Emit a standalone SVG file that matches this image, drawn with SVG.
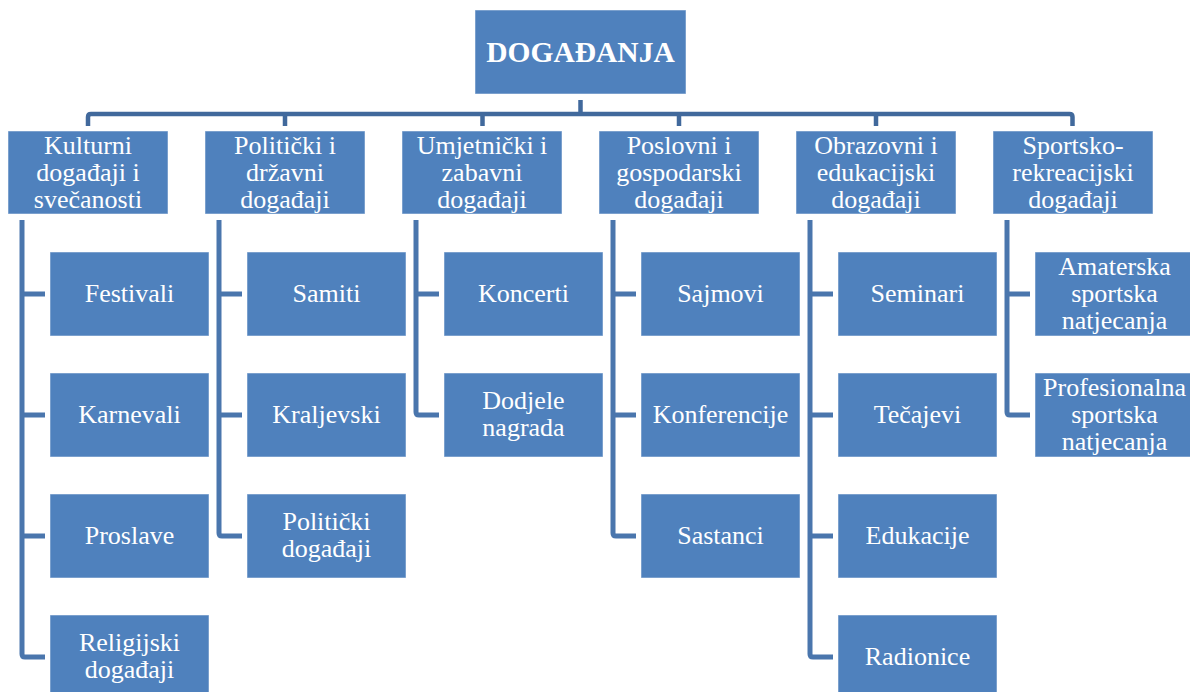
<svg xmlns="http://www.w3.org/2000/svg" width="1190" height="692" viewBox="0 0 1190 692">
<style>
.box{fill:#4f81bd;stroke:#ffffff;stroke-opacity:0.5;stroke-width:1}
.t{font-family:"Liberation Serif","Times New Roman",serif;font-size:26px;fill:#ffffff;text-anchor:middle}
.root{font-family:"Liberation Serif","Times New Roman",serif;font-size:29.5px;font-weight:bold;fill:#ffffff;text-anchor:middle}
.bus{fill:none;stroke:#41699c;stroke-width:4.5;stroke-linejoin:round}
.ln{fill:none;stroke:#4a76ad;stroke-width:5;stroke-linejoin:round}
</style>
<rect width="1190" height="692" fill="#ffffff"/>
<g id="connectors">
<path class="bus" d="M580.5,100 V114"/>
<path class="bus" d="M88,126 V117 Q88,114 91,114 H1069.5 Q1072.5,114 1072.5,117 V126"/>
<path class="bus" d="M285,114 V126 M482.5,114 V126 M679,114 V126 M876,114 V126"/>
<path class="ln" d="M22,220 V654 Q22,657 25,657 H45 M22,294 H45 M22,415 H45 M22,536 H45"/>
<path class="ln" d="M219,220 V533 Q219,536 222,536 H242 M219,294 H242 M219,415 H242"/>
<path class="ln" d="M416,220 V412 Q416,415 419,415 H439 M416,294 H439"/>
<path class="ln" d="M613,220 V533 Q613,536 616,536 H636 M613,294 H636 M613,415 H636"/>
<path class="ln" d="M810,220 V654 Q810,657 813,657 H833 M810,294 H833 M810,415 H833 M810,536 H833"/>
<path class="ln" d="M1007,220 V412 Q1007,415 1010,415 H1030 M1007,294 H1030"/>
</g>
<g id="root"><rect class="box" x="475" y="10" width="211" height="84"/><text class="root" x="580.5" y="62">DOGAĐANJA</text></g>

<g id="kulturni"><rect class="box" x="8" y="131" width="160" height="83"/><text class="t" x="88" y="154"><tspan x="88">Kulturni</tspan><tspan x="88" dy="27">događaji i</tspan><tspan x="88" dy="27">svečanosti</tspan></text></g>
<g id="politicki"><rect class="box" x="205" y="131" width="160" height="83"/><text class="t" x="285" y="154"><tspan x="285">Politički i</tspan><tspan x="285" dy="27">državni</tspan><tspan x="285" dy="27">događaji</tspan></text></g>
<g id="umjetnicki"><rect class="box" x="402" y="131" width="160" height="83"/><text class="t" x="482" y="154"><tspan x="482">Umjetnički i</tspan><tspan x="482" dy="27">zabavni</tspan><tspan x="482" dy="27">događaji</tspan></text></g>
<g id="poslovni"><rect class="box" x="599" y="131" width="160" height="83"/><text class="t" x="679" y="154"><tspan x="679">Poslovni i</tspan><tspan x="679" dy="27">gospodarski</tspan><tspan x="679" dy="27">događaji</tspan></text></g>
<g id="obrazovni"><rect class="box" x="796" y="131" width="160" height="83"/><text class="t" x="876" y="154"><tspan x="876">Obrazovni i</tspan><tspan x="876" dy="27">edukacijski</tspan><tspan x="876" dy="27">događaji</tspan></text></g>
<g id="sportsko"><rect class="box" x="993" y="131" width="160" height="83"/><text class="t" x="1073" y="154"><tspan x="1073">Sportsko-</tspan><tspan x="1073" dy="27">rekreacijski</tspan><tspan x="1073" dy="27">događaji</tspan></text></g>

<g id="festivali"><rect class="box" x="50" y="252" width="159" height="84"/><text class="t" x="129.5" y="302">Festivali</text></g>
<g id="karnevali"><rect class="box" x="50" y="373" width="159" height="84"/><text class="t" x="129.5" y="423">Karnevali</text></g>
<g id="proslave"><rect class="box" x="50" y="494" width="159" height="84"/><text class="t" x="129.5" y="544">Proslave</text></g>
<g id="religijski"><rect class="box" x="50" y="615" width="159" height="84"/><text class="t" x="129.5" y="651"><tspan x="129.5">Religijski</tspan><tspan x="129.5" dy="27">događaji</tspan></text></g>

<g id="samiti"><rect class="box" x="247" y="252" width="159" height="84"/><text class="t" x="326.5" y="302">Samiti</text></g>
<g id="kraljevski"><rect class="box" x="247" y="373" width="159" height="84"/><text class="t" x="326.5" y="423">Kraljevski</text></g>
<g id="politicki-dogadaji"><rect class="box" x="247" y="494" width="159" height="84"/><text class="t" x="326.5" y="530"><tspan x="326.5">Politički</tspan><tspan x="326.5" dy="27">događaji</tspan></text></g>

<g id="koncerti"><rect class="box" x="444" y="252" width="159" height="84"/><text class="t" x="523.5" y="302">Koncerti</text></g>
<g id="dodjele"><rect class="box" x="444" y="373" width="159" height="84"/><text class="t" x="523.5" y="409"><tspan x="523.5">Dodjele</tspan><tspan x="523.5" dy="27">nagrada</tspan></text></g>

<g id="sajmovi"><rect class="box" x="641" y="252" width="159" height="84"/><text class="t" x="720.5" y="302">Sajmovi</text></g>
<g id="konferencije"><rect class="box" x="641" y="373" width="159" height="84"/><text class="t" x="720.5" y="423">Konferencije</text></g>
<g id="sastanci"><rect class="box" x="641" y="494" width="159" height="84"/><text class="t" x="720.5" y="544">Sastanci</text></g>

<g id="seminari"><rect class="box" x="838" y="252" width="159" height="84"/><text class="t" x="917.5" y="302">Seminari</text></g>
<g id="tecajevi"><rect class="box" x="838" y="373" width="159" height="84"/><text class="t" x="917.5" y="423">Tečajevi</text></g>
<g id="edukacije"><rect class="box" x="838" y="494" width="159" height="84"/><text class="t" x="917.5" y="544">Edukacije</text></g>
<g id="radionice"><rect class="box" x="838" y="615" width="159" height="84"/><text class="t" x="917.5" y="665">Radionice</text></g>

<g id="amaterska"><rect class="box" x="1035" y="252" width="159" height="84"/><text class="t" x="1114.5" y="275"><tspan x="1114.5">Amaterska</tspan><tspan x="1114.5" dy="27">sportska</tspan><tspan x="1114.5" dy="27">natjecanja</tspan></text></g>
<g id="profesionalna"><rect class="box" x="1035" y="373" width="159" height="84"/><text class="t" x="1114.5" y="396"><tspan x="1114.5">Profesionalna</tspan><tspan x="1114.5" dy="27">sportska</tspan><tspan x="1114.5" dy="27">natjecanja</tspan></text></g>
</svg>
